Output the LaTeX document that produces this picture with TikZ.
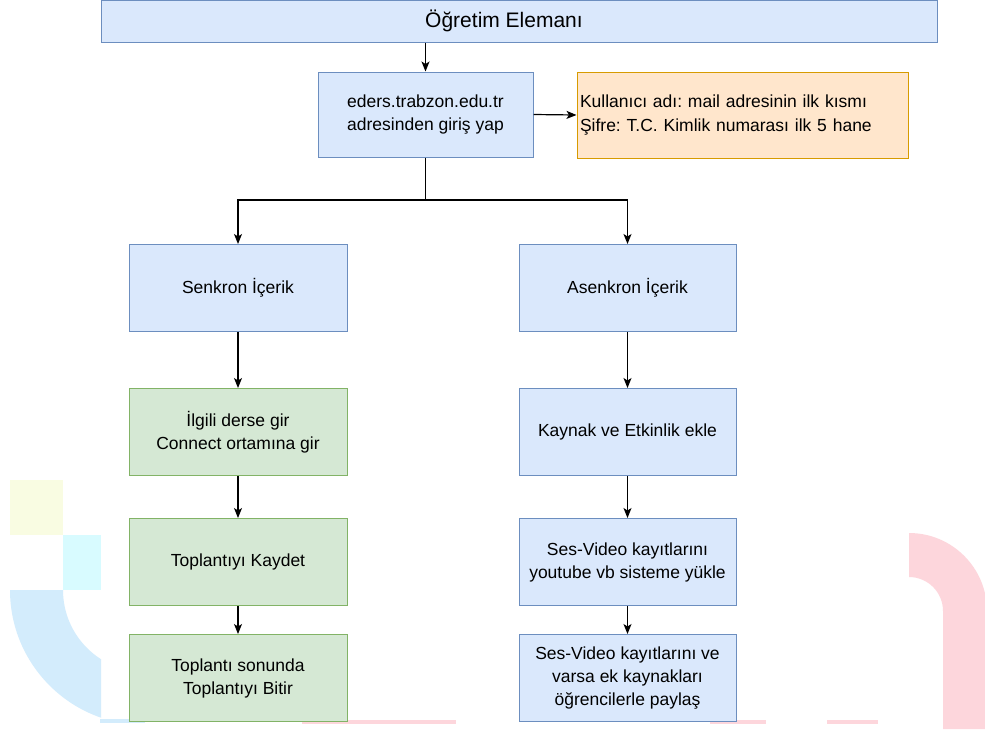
\documentclass[tikz,border=0pt]{standalone}
\usepackage{fontspec}
\setmainfont{Liberation Sans}
\frenchspacing
\usetikzlibrary{arrows.meta}
\definecolor{blueFill}{HTML}{DAE8FC}
\definecolor{blueLine}{HTML}{6C8EBF}
\definecolor{greenFill}{HTML}{D5E8D4}
\definecolor{greenLine}{HTML}{82B366}
\definecolor{orangeFill}{HTML}{FFE6CC}
\definecolor{orangeLine}{HTML}{D79B00}
\definecolor{wmYellow}{HTML}{F9FCE2}
\definecolor{wmCyan}{HTML}{D8FBFF}
\definecolor{wmBlue}{HTML}{D3ECFC}
\definecolor{wmPink}{HTML}{FDD6DC}
\tikzset{stepBlue/.style={draw=blueLine,fill=blueFill,rectangle,align=center,minimum width=218pt,minimum height=87pt,font=\fontsize{17.5}{23}\selectfont}}
\tikzset{stepGreen/.style={draw=greenLine,fill=greenFill,rectangle,align=center,minimum width=218pt,minimum height=87pt,font=\fontsize{17.5}{23}\selectfont}}
\tikzset{noteBox/.style={draw=orangeLine,fill=orangeFill,rectangle,align=left,text width=325pt,inner xsep=3pt,minimum height=86pt,font=\fontsize{17.5}{24}\selectfont}}
\tikzset{link/.style={-{Stealth[length=10pt,width=8pt,inset=2.5pt]},line width=1.2pt,black}}
\begin{document}
\begin{tikzpicture}[x=1pt,y=-1pt,line width=1pt]
            \useasboundingbox (0,0) rectangle (985,729);
            \fill[white] (0,0) rectangle (985,729);
            % watermark
            \fill[wmYellow] (10,480) rectangle (63,535);
            \fill[wmCyan] (63,535) rectangle (101,590);
            \begin{scope}
            \clip (0,590) rectangle (101,729);
            \fill[wmBlue] (10,590) arc[start angle=180,end angle=270,radius=135pt] -- (145,672) arc[start angle=270,end angle=180,radius=82pt] -- cycle;
            \end{scope}
            \fill[wmBlue] (100,719) rectangle (145,723);
            \fill[wmPink] (909,533) arc[start angle=90,end angle=0,radius=78pt] -- (987,729) -- (943,729) -- (943,611) arc[start angle=0,end angle=90,radius=34pt] -- cycle;
            \fill[wmPink] (302,720) rectangle (456,724);
            \fill[wmPink] (710,720) rectangle (766,724);
            \fill[wmPink] (827,720) rectangle (878,724);
            % boxes
            \node[stepBlue,minimum width=836pt,minimum height=42pt] (ogretim) at (519,21) {};
            \node[font=\fontsize{21}{25}\selectfont] (ogretimYazi) at (504,21) {Öğretim Elemanı};
            \node[stepBlue,minimum width=215pt,minimum height=85pt] (giris) at (425.5,114.5) {eders.trabzon.edu.tr\\adresinden giriş yap};
            \node[noteBox] (bilgi) at (742.5,115) {Kullanıcı adı: mail adresinin ilk kısmı\\Şifre: T.C. Kimlik numarası ilk 5 hane};
            \node[stepBlue] (senkron) at (238,288) {Senkron İçerik};
            \node[stepBlue,minimum width=217pt] (asenkron) at (627.5,288) {Asenkron İçerik};
            \node[stepGreen] (ders) at (238,432) {İlgili derse gir\\Connect ortamına gir};
            \node[stepGreen] (kaydet) at (238,562) {Toplantıyı Kaydet};
            \node[stepGreen] (bitir) at (238,678) {Toplantı sonunda\\Toplantıyı Bitir};
            \node[stepBlue,minimum width=217pt] (kaynak) at (627.5,432) {Kaynak ve Etkinlik ekle};
            \node[stepBlue,minimum width=217pt] (yukle) at (627.5,562) {Ses-Video kayıtlarını\\youtube vb sisteme yükle};
            \node[stepBlue,minimum width=217pt] (paylas) at (627.5,678) {Ses-Video kayıtlarını ve\\varsa ek kaynakları\\öğrencilerle paylaş};
            \coordinate (ayrim) at (425.5,200);
            % connectors
            \draw[link] (ogretim.south -| giris.north) -- (giris.north);
            \draw[link] (giris.east) -- (bilgi.west);
            \draw[link] (giris.south) -- (ayrim) -| (senkron.north);
            \draw[link] (ayrim) -| (asenkron.north);
            \draw[link] (senkron) -- (ders);
            \draw[link] (ders) -- (kaydet);
            \draw[link] (kaydet) -- (bitir);
            \draw[link] (asenkron) -- (kaynak);
            \draw[link] (kaynak) -- (yukle);
            \draw[link] (yukle) -- (paylas);
\end{tikzpicture}
\end{document}
